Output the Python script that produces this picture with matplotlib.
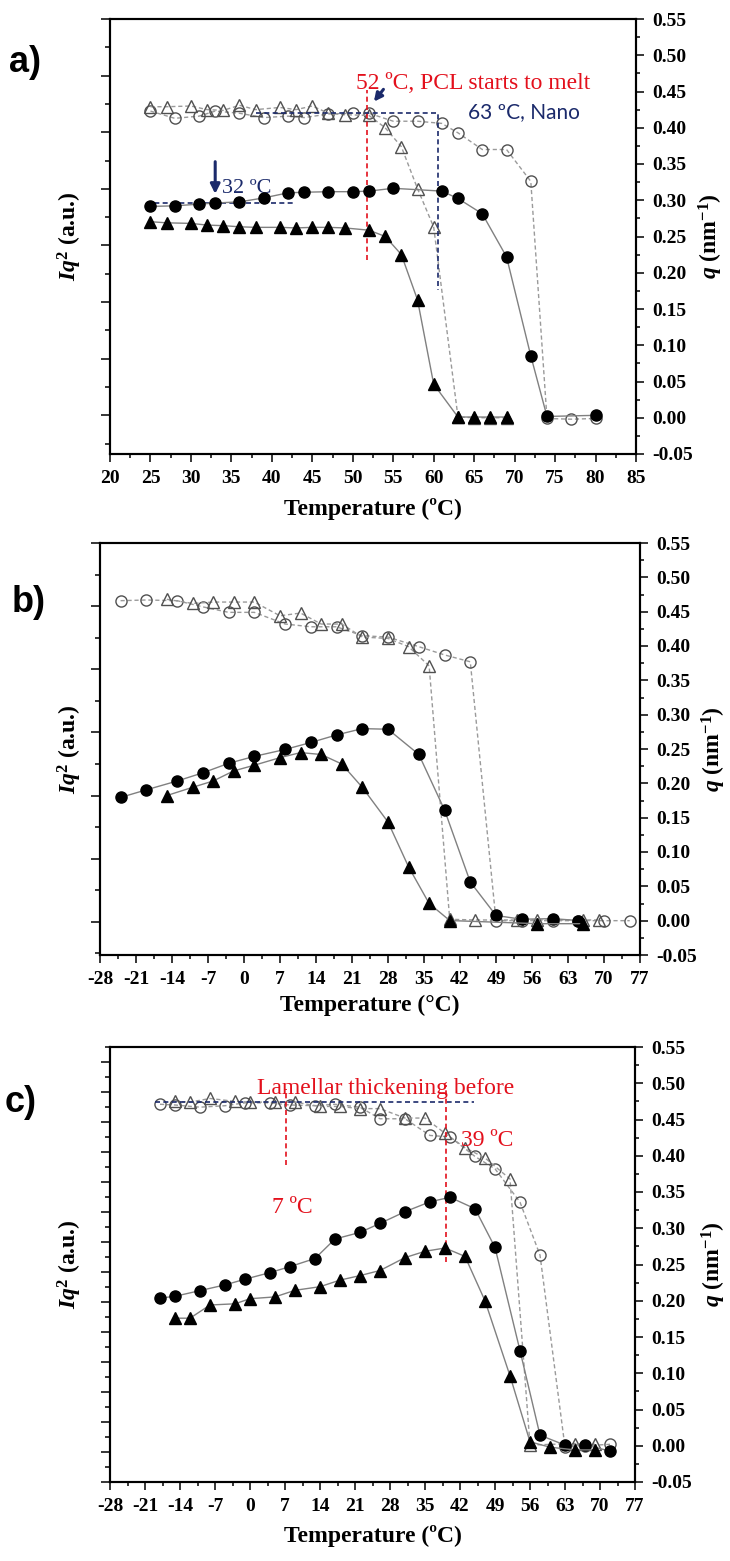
import matplotlib
matplotlib.use("Agg")
import matplotlib.pyplot as plt
from matplotlib.ticker import MultipleLocator, NullFormatter, FormatStrFormatter

plt.rcParams['font.family'] = ['Liberation Serif', 'DejaVu Serif']
plt.rcParams['font.weight'] = 'bold'
plt.rcParams['axes.labelweight'] = 'bold'
plt.rcParams['mathtext.fontset'] = 'custom'
plt.rcParams['mathtext.rm'] = 'Liberation Serif'
plt.rcParams['mathtext.bf'] = 'Liberation Serif:bold'
plt.rcParams['mathtext.it'] = 'Liberation Serif:italic'
plt.rcParams['mathtext.bfit'] = 'Liberation Serif:italic:bold'
plt.rcParams['axes.unicode_minus'] = False

# ---- panel a) : filled = Iq^2 (left, a.u.), open = q (right, nm^-1)
a_fc_t = [25, 28, 31, 33, 36, 39, 42, 44, 47, 50, 52, 55, 61, 63, 66, 69, 72, 74, 80]
a_fc = [3.69, 3.70, 3.73, 3.75, 3.77, 3.84, 3.93, 3.94, 3.95, 3.95, 3.96, 4.01, 3.96, 3.83, 3.56, 2.80, 1.05, -0.02, 0.00]
a_ft_t = [25, 27, 30, 32, 34, 36, 38, 41, 43, 45, 47, 49, 52, 54, 56, 58, 60, 63, 65, 67, 69]
a_ft = [3.42, 3.40, 3.39, 3.36, 3.35, 3.33, 3.32, 3.32, 3.31, 3.32, 3.32, 3.31, 3.27, 3.16, 2.84, 2.04, 0.55, -0.03, -0.03, -0.03, -0.03]
a_oc_t = [25, 28, 31, 33, 36, 39, 42, 44, 47, 50, 52, 55, 58, 61, 63, 66, 69, 72, 74, 77, 80]
a_oc = [0.423, 0.413, 0.416, 0.423, 0.420, 0.414, 0.416, 0.414, 0.419, 0.420, 0.420, 0.409, 0.409, 0.406, 0.393, 0.370, 0.370, 0.326, -0.001, -0.002, -0.001]
a_ot_t = [25, 27, 30, 32, 34, 36, 38, 41, 43, 45, 47, 49, 52, 54, 56, 58, 60, 63, 65, 67, 69]
a_ot = [0.429, 0.429, 0.430, 0.425, 0.424, 0.431, 0.425, 0.428, 0.425, 0.430, 0.420, 0.418, 0.417, 0.400, 0.374, 0.316, 0.263, 0.001, 0.000, 0.000, 0.000]

# ---- panel b)
b_fc_t = [-24, -19, -13, -8, -3, 2, 8, 13, 18, 23, 28, 34, 39, 44, 49, 54, 60, 65]
b_fc = [1.97, 2.09, 2.23, 2.36, 2.51, 2.62, 2.73, 2.84, 2.96, 3.06, 3.05, 2.65, 1.77, 0.63, 0.10, 0.04, 0.05, 0.02]
b_ft_t = [-15, -10, -6, -2, 2, 7, 11, 15, 19, 23, 28, 32, 36, 40, 57, 66]
b_ft = [2.00, 2.13, 2.23, 2.39, 2.48, 2.60, 2.68, 2.65, 2.50, 2.13, 1.58, 0.87, 0.29, 0.02, -0.03, -0.03]
b_oc_t = [-24, -19, -13, -8, -3, 2, 8, 13, 18, 23, 28, 34, 39, 44, 49, 54, 60, 65, 70, 75]
b_oc = [0.466, 0.467, 0.466, 0.457, 0.449, 0.449, 0.432, 0.428, 0.428, 0.415, 0.413, 0.399, 0.387, 0.377, 0.000, 0.000, 0.000, 0.000, 0.000, 0.000]
b_ot_t = [-15, -10, -6, -2, 2, 7, 11, 15, 19, 23, 28, 32, 36, 40, 45, 53, 57, 66, 69]
b_ot = [0.468, 0.462, 0.464, 0.464, 0.464, 0.444, 0.448, 0.432, 0.432, 0.413, 0.411, 0.399, 0.371, 0.002, 0.001, 0.001, 0.001, 0.001, 0.001]

# ---- panel c)
c_fc_t = [-18, -15, -10, -5, -1, 4, 8, 13, 17, 22, 26, 31, 36, 40, 45, 49, 54, 58, 63, 67, 72]
c_fc = [5.13, 5.19, 5.38, 5.57, 5.76, 5.98, 6.18, 6.45, 7.10, 7.32, 7.62, 8.01, 8.34, 8.49, 8.11, 6.82, 3.38, 0.56, 0.23, 0.24, 0.03]
c_ft_t = [-15, -12, -8, -3, 0, 5, 9, 14, 18, 22, 26, 31, 35, 39, 43, 47, 52, 56, 60, 65, 69]
c_ft = [4.46, 4.46, 4.90, 4.94, 5.11, 5.17, 5.39, 5.51, 5.73, 5.88, 6.05, 6.48, 6.69, 6.80, 6.52, 5.04, 2.54, 0.34, 0.16, 0.07, 0.07]
c_oc_t = [-18, -15, -10, -5, -1, 4, 8, 13, 17, 22, 26, 31, 36, 40, 45, 49, 54, 58, 63, 67, 72]
c_oc = [0.471, 0.470, 0.467, 0.469, 0.473, 0.473, 0.470, 0.469, 0.471, 0.467, 0.451, 0.451, 0.428, 0.426, 0.399, 0.382, 0.336, 0.263, -0.002, 0.000, 0.002]
c_ot_t = [-15, -12, -8, -3, 0, 5, 9, 14, 18, 22, 26, 31, 35, 39, 43, 47, 52, 56, 65, 69]
c_ot = [0.475, 0.474, 0.479, 0.475, 0.474, 0.474, 0.474, 0.468, 0.468, 0.465, 0.465, 0.452, 0.452, 0.431, 0.411, 0.397, 0.368, 0.001, 0.003, 0.002]

RED = '#e3101c'
NAVY = '#1b2a6b'
W, H = 730, 1561

fig = plt.figure(figsize=(W / 100, H / 100), dpi=100)


def px_rect(l, r, t, b):
    return [l / W, (H - b) / H, (r - l) / W, (b - t) / H]


def panel(rect, xlim, xstep, left_lim, fc_t, fc, ft_t, ft, oc_t, oc, ot_t, ot,
          unit_c, ylab_x, yrlab_x, xlab_y):
    ax = fig.add_axes(rect)
    ax2 = ax.twinx()
    ax.set_zorder(ax2.get_zorder() + 1)
    ax.patch.set_visible(False)

    ax2.plot(oc_t, oc, linestyle=(0, (3, 2)), color='#9a9a9a', lw=1.0,
             marker='o', ms=8, mfc='none', mec='#505050', mew=1.0)
    ax2.plot(ot_t, ot, linestyle=(0, (3, 2)), color='#9a9a9a', lw=1.0,
             marker='^', ms=9, mfc='none', mec='#505050', mew=1.0)
    ax.plot(fc_t, fc, '-', color='#808080', lw=1.0,
            marker='o', ms=8, mfc='black', mec='black')
    ax.plot(ft_t, ft, '-', color='#808080', lw=1.0,
            marker='^', ms=9, mfc='black', mec='black')

    ax.set_xlim(*xlim)
    ax.set_ylim(*left_lim)
    ax2.set_ylim(-0.05, 0.55)

    ax.xaxis.set_major_locator(MultipleLocator(xstep))
    ax.xaxis.set_minor_locator(MultipleLocator(xstep / 2))
    ax.yaxis.set_major_locator(MultipleLocator(1))
    ax.yaxis.set_minor_locator(MultipleLocator(0.5))
    ax.yaxis.set_major_formatter(NullFormatter())
    ax2.yaxis.set_major_locator(MultipleLocator(0.05))
    ax2.yaxis.set_minor_locator(MultipleLocator(0.025))
    ax2.yaxis.set_major_formatter(FormatStrFormatter('%.2f'))

    ax.tick_params(axis='x', which='major', direction='out', length=5.5, width=1.1,
                   labelsize=14, pad=6, top=False)
    ax.tick_params(axis='x', which='minor', direction='out', length=3, width=1.1, top=False)
    ax.tick_params(axis='y', which='major', direction='out', length=6.5, width=1.1, labelleft=False)
    ax.tick_params(axis='y', which='minor', direction='out', length=3.5, width=1.1)
    ax2.tick_params(axis='y', which='major', direction='out', length=6, width=1.1,
                    labelsize=14, pad=6)
    ax2.tick_params(axis='y', which='minor', direction='out', length=3, width=1.1)

    for a in (ax, ax2):
        for s in a.spines.values():
            s.set_linewidth(1.5)

    ax.set_xlabel(u'Temperature (%s)' % unit_c, fontsize=17, fontweight='bold')
    ax.xaxis.set_label_coords(0.5, xlab_y)
    ax.set_ylabel(r'$\mathbfit{Iq}^{\mathbf{2}}$ (a.u.)', fontsize=17, fontweight='bold')
    ax.yaxis.set_label_coords(ylab_x, 0.5)
    ax2.set_ylabel(r'$\mathbfit{q}$ (nm$^{\mathbf{-1}}$)', fontsize=17, fontweight='bold',
                   rotation=90)
    ax2.yaxis.set_label_coords(yrlab_x, 0.5)
    return ax, ax2


# a)
ax_a, ax_a2 = panel(px_rect(110, 636, 19, 454), (20, 85), 5, (-0.683, 7.0),
                    a_fc_t, a_fc, a_ft_t, a_ft, a_oc_t, a_oc, a_ot_t, a_ot,
                    u'ºC', -0.05, 1.115, -0.10)
dash = (0, (3, 2))
ax_a2.plot([51.7, 51.7], [0.217, 0.452], color=RED, lw=1.2, linestyle=dash)
ax_a2.plot([38, 60.5, 60.5], [0.42, 0.42, 0.176], color=NAVY, lw=1.2, linestyle=dash)
ax_a2.plot([24.5, 42.8], [0.296, 0.296], color=NAVY, lw=1.2, linestyle=dash)
ax_a2.annotate('', xy=(33, 0.305), xytext=(33, 0.357),
               arrowprops=dict(arrowstyle='-|>', color=NAVY, lw=2.2, mutation_scale=14))
ax_a2.annotate('', xy=(52.4, 0.433), xytext=(54.0, 0.456),
               arrowprops=dict(arrowstyle='-|>', color=NAVY, lw=2.2, mutation_scale=12))
ax_a2.text(33.8, 0.316, u'32 ºC', color=NAVY, fontsize=16, fontweight='normal', va='center')
ax_a2.text(50.4, 0.461, u'52 ºC, PCL starts to melt', color=RED, fontsize=17,
           fontweight='normal', va='center')
ax_a2.text(64.2, 0.421, u'63 ºC, Nano', color=NAVY, fontsize=15, fontweight='normal',
           family='Lato', va='center')

# b)
panel(px_rect(100, 640, 543, 955), (-28, 77), 7, (-0.526, 6.0),
      b_fc_t, b_fc, b_ft_t, b_ft, b_oc_t, b_oc, b_ot_t, b_ot,
      u'°C', -0.03, 1.11, -0.097)

# c)
ax_c, ax_c2 = panel(px_rect(110, 635, 1047, 1482), (-28, 77), 7, (-1.0, 13.5),
                    c_fc_t, c_fc, c_ft_t, c_ft, c_oc_t, c_oc, c_ot_t, c_ot,
                    u'ºC', -0.05, 1.123, -0.099)
ax_c2.plot([-19, 44.7], [0.474, 0.474], color=NAVY, lw=1.2, linestyle=dash)
ax_c2.plot([7.1, 7.1], [0.387, 0.492], color=RED, lw=1.2, linestyle=dash)
ax_c2.plot([39.2, 39.2], [0.253, 0.497], color=RED, lw=1.2, linestyle=dash)
ax_c2.text(1.3, 0.493, 'Lamellar thickening before', color=RED, fontsize=17,
           fontweight='normal', va='center')
ax_c2.text(42.2, 0.421, u'39 ºC', color=RED, fontsize=17, fontweight='normal', va='center')
ax_c2.text(4.3, 0.328, u'7 ºC', color=RED, fontsize=17, fontweight='normal', va='center')

# panel tags
for tag, x, y in [('a)', 9, 62), ('b)', 12, 602), ('c)', 5, 1102)]:
    fig.text(x / W, 1 - y / H, tag, fontsize=26, fontweight='bold',
             family='Liberation Sans', va='center', ha='left')

fig.savefig('out.png', dpi=100)
